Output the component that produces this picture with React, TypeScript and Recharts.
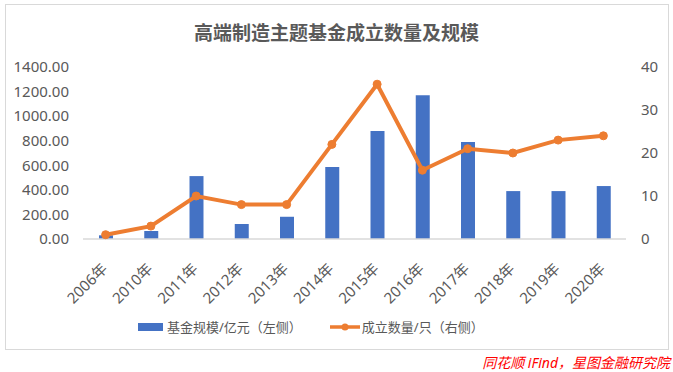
import React from 'react';
import { Bar, ComposedChart, Legend, Line, XAxis, YAxis } from 'recharts';

const years = ['2006年', '2010年', '2011年', '2012年', '2013年', '2014年', '2015年', '2016年', '2017年', '2018年', '2019年', '2020年'];
const fundScale = [30, 65, 512, 122, 181, 586, 879, 1170, 789, 390, 390, 431];
const fundCount = [1, 3, 10, 8, 8, 22, 36, 16, 21, 20, 23, 24];
const leftTicks = [0, 200, 400, 600, 800, 1000, 1200, 1400];
const rightTicks = [0, 10, 20, 30, 40];

const data = years.map((name, i) => ({
  name,
  scale: fundScale[i],
  count: fundCount[i]
}));

const FONT = '"Noto Sans", "Noto Sans CJK SC", sans-serif';
const GREY = '#595959';
const BLUE = '#4472C4';
const ORANGE = '#ED7D31';

function YearTick({ x, y, payload }: any) {
  return (
    <g transform={`translate(${x - 1},${y + 19})`}>
      <text transform='rotate(-45)' textAnchor='end' dy='0.35em' fill={GREY} fontSize={15} fontFamily={FONT}>
        {payload.value}
      </text>
    </g>
  );
}

function LegendContent({ payload }: any) {
  return (
    <div style={{ display: 'flex', alignItems: 'center', fontFamily: FONT, fontSize: 13, color: GREY }}>
      {(payload || []).map((p: any) => (
        <div key={p.value} style={{ display: 'flex', alignItems: 'center', marginRight: 28 }}>
          {p.type === 'rect' ? (
            <span style={{ display: 'inline-block', width: 25, height: 8, background: p.color, marginRight: 4 }} />
          ) : (
            <svg width={30} height={10} style={{ marginRight: 2 }}>
              <line x1={0} y1={5} x2={30} y2={5} stroke={p.color} strokeWidth={3.5} />
              <circle cx={15} cy={5} r={3.5} fill={p.color} />
            </svg>
          )}
          <span>{p.value}</span>
        </div>
      ))}
    </div>
  );
}

export default function App() {
  return (
    <div style={{ position: 'absolute', left: 0, top: 0, width: 673, height: 372, background: '#fff' }}>
      <div
        style={{
          position: 'absolute',
          left: 5,
          top: 4,
          width: 662,
          height: 344,
          border: '1px solid #d9d9d9'
        }}
      />
      <div
        style={{
          position: 'absolute',
          left: 5,
          top: 21,
          width: 663,
          lineHeight: '24px',
          textAlign: 'center',
          fontFamily: FONT,
          fontSize: 19,
          fontWeight: 'bold',
          color: GREY
        }}
      >
        高端制造主题基金成立数量及规模
      </div>
      <ComposedChart
        width={673}
        height={372}
        data={data}
        margin={{ top: 67, right: 0, bottom: 0, left: 0 }}
        barSize={14}
        style={{ position: 'absolute', left: 0, top: 0 }}
      >
        <XAxis
          dataKey='name'
          height={133}
          interval={0}
          tickLine={false}
          axisLine={{ stroke: '#d9d9d9', strokeWidth: 1.5 }}
          tick={<YearTick />}
        />
        <YAxis
          yAxisId='left'
          width={83}
          domain={[0, 1400]}
          ticks={leftTicks}
          tickFormatter={(v: number) => v.toFixed(2)}
          axisLine={false}
          tickLine={false}
          tickSize={0}
          tickMargin={14}
          tick={{ fill: GREY, fontSize: 15, fontFamily: FONT }}
        />
        <YAxis
          yAxisId='right'
          orientation='right'
          width={47}
          domain={[0, 40]}
          ticks={rightTicks}
          axisLine={false}
          tickLine={false}
          tickSize={0}
          tickMargin={15}
          tick={{ fill: GREY, fontSize: 15, fontFamily: FONT, textAnchor: 'start' }}
        />
        <Legend
          verticalAlign='middle'
          align='center'
          wrapperStyle={{ top: 317, left: 138, width: 400 }}
          content={<LegendContent />}
        />
        <Bar yAxisId='left' dataKey='scale' name='基金规模/亿元（左侧）' fill={BLUE} isAnimationActive={false} />
        <Line
          yAxisId='right'
          dataKey='count'
          name='成立数量/只（右侧）'
          type='linear'
          stroke={ORANGE}
          strokeWidth={4}
          dot={{ r: 4, fill: ORANGE, stroke: ORANGE, strokeWidth: 1 }}
          legendType='line'
          isAnimationActive={false}
        />
      </ComposedChart>
      <div
        style={{
          position: 'absolute',
          right: 3,
          top: 354,
          lineHeight: '18px',
          fontFamily: FONT,
          fontSize: 14,
          fontStyle: 'italic',
          color: '#ff0000',
          whiteSpace: 'nowrap'
        }}
      >
        同花顺 iFind，星图金融研究院
      </div>
    </div>
  );
}
